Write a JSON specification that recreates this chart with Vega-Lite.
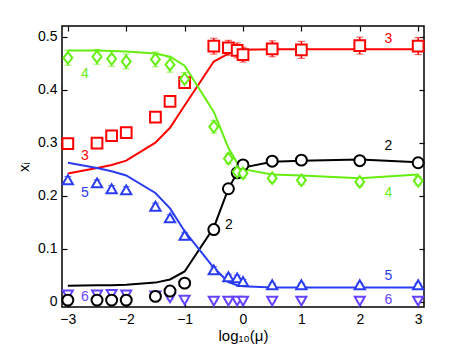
{
  "$schema": "https://vega.github.io/schema/vega-lite/v6.json",
  "width": 362,
  "height": 281,
  "autosize": {"type": "none"},
  "padding": {"left": 62, "top": 26, "right": 45, "bottom": 45},
  "background": "white",
  "config": {
    "view": {"stroke": "black", "strokeWidth": 1.5},
    "font": "Liberation Sans",
    "axis": {"grid": false, "domain": false, "labelFont": "Liberation Sans", "labelFontSize": 14, "labelColor": "black", "tickColor": "black", "tickWidth": 1.2, "titleFont": "Liberation Sans", "titleFontSize": 15, "titleFontWeight": "normal", "titleColor": "black"}
  },
  "datasets": {
    "model": [
      {"s": "2", "x": -3, "m": 0.030}, {"s": "2", "x": -2.5, "m": 0.031}, {"s": "2", "x": -2.25, "m": 0.031}, {"s": "2", "x": -2, "m": 0.032}, {"s": "2", "x": -1.5, "m": 0.036}, {"s": "2", "x": -1.25, "m": 0.042}, {"s": "2", "x": -1, "m": 0.057}, {"s": "2", "x": -0.5, "m": 0.140}, {"s": "2", "x": -0.25, "m": 0.213}, {"s": "2", "x": -0.1, "m": 0.243}, {"s": "2", "x": 0, "m": 0.253}, {"s": "2", "x": 0.5, "m": 0.264}, {"s": "2", "x": 1, "m": 0.266}, {"s": "2", "x": 2, "m": 0.268}, {"s": "2", "x": 3, "m": 0.263},
      {"s": "3", "x": -3, "m": 0.242}, {"s": "3", "x": -2.5, "m": 0.252}, {"s": "3", "x": -2.25, "m": 0.258}, {"s": "3", "x": -2, "m": 0.266}, {"s": "3", "x": -1.5, "m": 0.300}, {"s": "3", "x": -1.25, "m": 0.328}, {"s": "3", "x": -1, "m": 0.370}, {"s": "3", "x": -0.5, "m": 0.453}, {"s": "3", "x": -0.25, "m": 0.468}, {"s": "3", "x": -0.1, "m": 0.474}, {"s": "3", "x": 0, "m": 0.475}, {"s": "3", "x": 0.5, "m": 0.476}, {"s": "3", "x": 1, "m": 0.476}, {"s": "3", "x": 2, "m": 0.476}, {"s": "3", "x": 3, "m": 0.476},
      {"s": "4", "x": -3, "m": 0.474}, {"s": "4", "x": -2.5, "m": 0.474}, {"s": "4", "x": -2.25, "m": 0.473}, {"s": "4", "x": -2, "m": 0.472}, {"s": "4", "x": -1.5, "m": 0.468}, {"s": "4", "x": -1.25, "m": 0.462}, {"s": "4", "x": -1, "m": 0.445}, {"s": "4", "x": -0.5, "m": 0.358}, {"s": "4", "x": -0.25, "m": 0.290}, {"s": "4", "x": -0.1, "m": 0.262}, {"s": "4", "x": 0, "m": 0.250}, {"s": "4", "x": 0.5, "m": 0.240}, {"s": "4", "x": 1, "m": 0.238}, {"s": "4", "x": 2, "m": 0.233}, {"s": "4", "x": 3, "m": 0.240},
      {"s": "5", "x": -3, "m": 0.262}, {"s": "5", "x": -2.5, "m": 0.252}, {"s": "5", "x": -2.25, "m": 0.246}, {"s": "5", "x": -2, "m": 0.238}, {"s": "5", "x": -1.5, "m": 0.205}, {"s": "5", "x": -1.25, "m": 0.176}, {"s": "5", "x": -1, "m": 0.133}, {"s": "5", "x": -0.5, "m": 0.064}, {"s": "5", "x": -0.25, "m": 0.037}, {"s": "5", "x": -0.1, "m": 0.031}, {"s": "5", "x": 0, "m": 0.029}, {"s": "5", "x": 0.5, "m": 0.027}, {"s": "5", "x": 1, "m": 0.027}, {"s": "5", "x": 2, "m": 0.027}, {"s": "5", "x": 3, "m": 0.027}
    ],
    "obs": [
      {"s": "6", "x": -3, "y": 0.013, "lo": 0.011, "hi": 0.015}, {"s": "6", "x": -2.5, "y": 0.013, "lo": 0.011, "hi": 0.015}, {"s": "6", "x": -2.25, "y": 0.014, "lo": 0.012, "hi": 0.016}, {"s": "6", "x": -2, "y": 0.013, "lo": 0.011, "hi": 0.015}, {"s": "6", "x": -1.5, "y": 0.011, "lo": 0.009, "hi": 0.013}, {"s": "6", "x": -1.25, "y": 0.007, "lo": 0.005, "hi": 0.009}, {"s": "6", "x": -1, "y": 0.003, "lo": 0.001, "hi": 0.005}, {"s": "6", "x": -0.5, "y": 0.001, "lo": 0.0, "hi": 0.002}, {"s": "6", "x": -0.25, "y": 0.001, "lo": 0.0, "hi": 0.002}, {"s": "6", "x": -0.1, "y": 0.001, "lo": 0.0, "hi": 0.002}, {"s": "6", "x": 0, "y": 0.001, "lo": 0.0, "hi": 0.002}, {"s": "6", "x": 0.5, "y": 0.001, "lo": 0.0, "hi": 0.002}, {"s": "6", "x": 1, "y": 0.001, "lo": 0.0, "hi": 0.002}, {"s": "6", "x": 2, "y": 0.001, "lo": 0.0, "hi": 0.002}, {"s": "6", "x": 3, "y": 0.001, "lo": 0.0, "hi": 0.002},
      {"s": "2", "x": -3, "y": 0.003, "lo": 0.001, "hi": 0.005}, {"s": "2", "x": -2.5, "y": 0.003, "lo": 0.001, "hi": 0.005}, {"s": "2", "x": -2.25, "y": 0.003, "lo": 0.001, "hi": 0.005}, {"s": "2", "x": -2, "y": 0.003, "lo": 0.001, "hi": 0.005}, {"s": "2", "x": -1.5, "y": 0.010, "lo": 0.008, "hi": 0.012}, {"s": "2", "x": -1.25, "y": 0.020, "lo": 0.018, "hi": 0.022}, {"s": "2", "x": -1, "y": 0.035, "lo": 0.033, "hi": 0.037}, {"s": "2", "x": -0.5, "y": 0.136, "lo": 0.133, "hi": 0.139}, {"s": "2", "x": -0.25, "y": 0.213, "lo": 0.210, "hi": 0.216}, {"s": "2", "x": -0.1, "y": 0.243, "lo": 0.240, "hi": 0.246}, {"s": "2", "x": 0, "y": 0.258, "lo": 0.255, "hi": 0.261}, {"s": "2", "x": 0.5, "y": 0.265, "lo": 0.262, "hi": 0.268}, {"s": "2", "x": 1, "y": 0.267, "lo": 0.264, "hi": 0.270}, {"s": "2", "x": 2, "y": 0.266, "lo": 0.263, "hi": 0.269}, {"s": "2", "x": 3, "y": 0.262, "lo": 0.259, "hi": 0.265},
      {"s": "3", "x": -3, "y": 0.298, "lo": 0.292, "hi": 0.304}, {"s": "3", "x": -2.5, "y": 0.299, "lo": 0.293, "hi": 0.305}, {"s": "3", "x": -2.25, "y": 0.313, "lo": 0.307, "hi": 0.319}, {"s": "3", "x": -2, "y": 0.319, "lo": 0.313, "hi": 0.325}, {"s": "3", "x": -1.5, "y": 0.348, "lo": 0.342, "hi": 0.354}, {"s": "3", "x": -1.25, "y": 0.378, "lo": 0.372, "hi": 0.384}, {"s": "3", "x": -1, "y": 0.413, "lo": 0.407, "hi": 0.419}, {"s": "3", "x": -0.5, "y": 0.482, "lo": 0.467, "hi": 0.497}, {"s": "3", "x": -0.25, "y": 0.479, "lo": 0.465, "hi": 0.493}, {"s": "3", "x": -0.1, "y": 0.474, "lo": 0.460, "hi": 0.488}, {"s": "3", "x": 0, "y": 0.466, "lo": 0.452, "hi": 0.480}, {"s": "3", "x": 0.5, "y": 0.477, "lo": 0.462, "hi": 0.492}, {"s": "3", "x": 1, "y": 0.475, "lo": 0.459, "hi": 0.491}, {"s": "3", "x": 2, "y": 0.483, "lo": 0.467, "hi": 0.499}, {"s": "3", "x": 3, "y": 0.482, "lo": 0.466, "hi": 0.498},
      {"s": "4", "x": -3, "y": 0.460, "lo": 0.446, "hi": 0.474}, {"s": "4", "x": -2.5, "y": 0.462, "lo": 0.448, "hi": 0.476}, {"s": "4", "x": -2.25, "y": 0.458, "lo": 0.444, "hi": 0.472}, {"s": "4", "x": -2, "y": 0.453, "lo": 0.439, "hi": 0.467}, {"s": "4", "x": -1.5, "y": 0.457, "lo": 0.443, "hi": 0.471}, {"s": "4", "x": -1.25, "y": 0.447, "lo": 0.433, "hi": 0.461}, {"s": "4", "x": -1, "y": 0.420, "lo": 0.408, "hi": 0.432}, {"s": "4", "x": -0.5, "y": 0.330, "lo": 0.318, "hi": 0.342}, {"s": "4", "x": -0.25, "y": 0.270, "lo": 0.260, "hi": 0.280}, {"s": "4", "x": -0.1, "y": 0.245, "lo": 0.236, "hi": 0.254}, {"s": "4", "x": 0, "y": 0.242, "lo": 0.233, "hi": 0.251}, {"s": "4", "x": 0.5, "y": 0.233, "lo": 0.225, "hi": 0.241}, {"s": "4", "x": 1, "y": 0.229, "lo": 0.221, "hi": 0.237}, {"s": "4", "x": 2, "y": 0.226, "lo": 0.218, "hi": 0.234}, {"s": "4", "x": 3, "y": 0.228, "lo": 0.220, "hi": 0.236},
      {"s": "5", "x": -3, "y": 0.230, "lo": 0.222, "hi": 0.236}, {"s": "5", "x": -2.5, "y": 0.224, "lo": 0.216, "hi": 0.230}, {"s": "5", "x": -2.25, "y": 0.213, "lo": 0.205, "hi": 0.219}, {"s": "5", "x": -2, "y": 0.211, "lo": 0.203, "hi": 0.217}, {"s": "5", "x": -1.5, "y": 0.180, "lo": 0.172, "hi": 0.186}, {"s": "5", "x": -1.25, "y": 0.158, "lo": 0.150, "hi": 0.164}, {"s": "5", "x": -1, "y": 0.125, "lo": 0.117, "hi": 0.131}, {"s": "5", "x": -0.5, "y": 0.060, "lo": 0.053, "hi": 0.066}, {"s": "5", "x": -0.25, "y": 0.047, "lo": 0.041, "hi": 0.052}, {"s": "5", "x": -0.1, "y": 0.045, "lo": 0.040, "hi": 0.050}, {"s": "5", "x": 0, "y": 0.038, "lo": 0.034, "hi": 0.042}, {"s": "5", "x": 0.5, "y": 0.032, "lo": 0.029, "hi": 0.035}, {"s": "5", "x": 1, "y": 0.032, "lo": 0.029, "hi": 0.035}, {"s": "5", "x": 2, "y": 0.032, "lo": 0.029, "hi": 0.035}, {"s": "5", "x": 3, "y": 0.032, "lo": 0.029, "hi": 0.035}
    ],
    "labels": [
      {"s": "4", "x": -2.71, "y": 0.43, "t": "4"},
      {"s": "3", "x": -2.71, "y": 0.274, "t": "3"},
      {"s": "5", "x": -2.71, "y": 0.205, "t": "5"},
      {"s": "6", "x": -2.71, "y": 0.008, "t": "6"},
      {"s": "2", "x": -0.24, "y": 0.145, "t": "2"},
      {"s": "3", "x": 2.49, "y": 0.496, "t": "3"},
      {"s": "2", "x": 2.49, "y": 0.293, "t": "2"},
      {"s": "4", "x": 2.49, "y": 0.205, "t": "4"},
      {"s": "5", "x": 2.49, "y": 0.048, "t": "5"},
      {"s": "6", "x": 2.49, "y": 0.004, "t": "6"}
    ]
  },
  "resolve": {"axis": {"x": "independent", "y": "independent"}},
  "layer": [
    {
      "data": {"name": "model"},
      "mark": {"type": "line", "strokeWidth": 2, "clip": true},
      "encoding": {
        "x": {"field": "x", "type": "quantitative", "scale": {"domain": [-3.1, 3.1], "nice": false, "zero": false},
              "axis": {"orient": "bottom", "values": [-3, -2, -1, 0, 1, 2, 3], "tickSize": -5, "labelPadding": 10, "title": "log₁₀(μ)", "titlePadding": 2, "labelExpr": "replace(datum.label, '-', '−')"}},
        "y": {"field": "m", "type": "quantitative", "scale": {"domain": [-0.01, 0.52], "nice": false, "zero": false},
              "axis": {"orient": "left", "values": [0, 0.1, 0.2, 0.3, 0.4, 0.5], "tickSize": -5, "labelPadding": 10, "title": "xᵢ", "titlePadding": 6, "labelExpr": "datum.value == 0 ? '0' : format(datum.value, '.1f')"}},
        "color": {"field": "s", "type": "nominal", "legend": null, "scale": {"domain": ["2", "3", "4", "5", "6"], "range": ["#000000", "#ff0000", "#66ee11", "#2a3cf0", "#6644ff"]}},
        "detail": {"field": "s"}
      }
    },
    {
      "data": {"name": "obs"},
      "mark": {"type": "errorbar", "ticks": {"size": 7, "strokeWidth": 1.5}, "rule": {"strokeWidth": 1.5}},
      "encoding": {
        "x": {"field": "x", "type": "quantitative", "axis": null},
        "y": {"field": "lo", "type": "quantitative", "axis": null},
        "y2": {"field": "hi"},
        "color": {"field": "s", "type": "nominal", "legend": null}
      }
    },
    {
      "data": {"name": "obs"},
      "mark": {"type": "point", "filled": false, "fill": "white", "fillOpacity": 1, "strokeWidth": 2, "opacity": 1},
      "encoding": {
        "x": {"field": "x", "type": "quantitative", "axis": null},
        "y": {"field": "y", "type": "quantitative", "axis": null},
        "color": {"field": "s", "type": "nominal", "legend": null},
        "shape": {"field": "s", "type": "nominal", "legend": null, "scale": {"domain": ["2", "3", "4", "5", "6"], "range": ["circle", "square", "M0,-1.1L0.85,0L0,1.1L-0.85,0Z", "triangle-up", "triangle-down"]}},
        "size": {"field": "s", "type": "nominal", "legend": null, "scale": {"domain": ["2", "3", "4", "5", "6"], "range": [120, 100, 130, 160, 160]}}
      }
    },
    {
      "data": {"name": "labels"},
      "mark": {"type": "text", "fontSize": 14, "font": "Liberation Sans", "align": "center", "baseline": "middle"},
      "encoding": {
        "x": {"field": "x", "type": "quantitative", "axis": null},
        "y": {"field": "y", "type": "quantitative", "axis": null},
        "text": {"field": "t"},
        "color": {"field": "s", "type": "nominal", "legend": null}
      }
    },
    {
      "data": {"name": "model"},
      "mark": {"type": "point", "opacity": 0},
      "encoding": {
        "x": {"field": "x", "type": "quantitative", "axis": {"orient": "top", "values": [-3, -2, -1, 0, 1, 2, 3], "tickSize": -5, "labels": false, "title": null}},
        "y": {"field": "m", "type": "quantitative", "axis": {"orient": "right", "values": [0, 0.1, 0.2, 0.3, 0.4, 0.5], "tickSize": -5, "labels": false, "title": null}}
      }
    }
  ]
}
